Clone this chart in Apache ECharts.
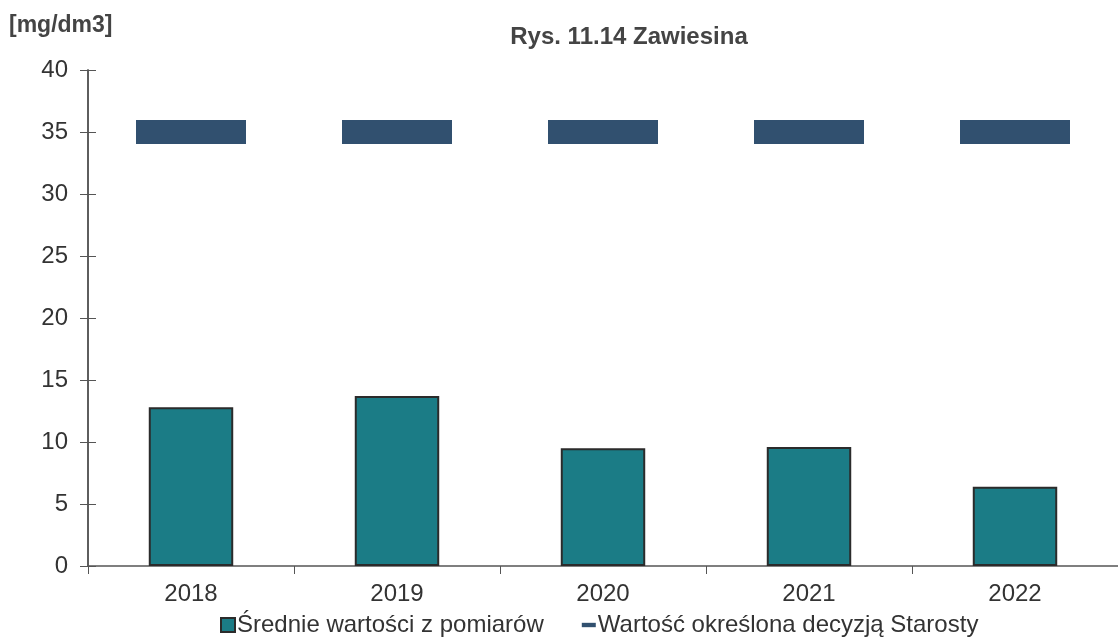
<!DOCTYPE html>
<html>
<head>
    <meta charset="utf-8" />
    <title>Zawiesina</title>
    <script src="https://cdn.jsdelivr.net/npm/echarts@6/dist/echarts.min.js"></script>
    <style>
        body { margin: 0; background: #fff; }
        #main { width: 1118px; height: 638px; }
    </style>
</head>
<body>
<div id="main"></div>
<script type="text/javascript">
    // dane
    var years = ['2018', '2019', '2020', '2021', '2022'];
    var srednie = [12.8, 13.7, 9.5, 9.6, 6.4];
    var limit = [35, 35, 35, 35, 35];
    var yTicks = [0, 5, 10, 15, 20, 25, 30, 35, 40];

    var nameBar = 'Średnie wartości z pomiarów';
    var nameLimit = 'Wartość określona decyzją Starosty';
    var font = 'Liberation Sans, Arial, sans-serif';

    var myChart = echarts.init(document.getElementById('main'));

    var yAxisBase = {
        type: 'value',
        min: yTicks[0],
        max: yTicks[yTicks.length - 1],
        interval: yTicks[1] - yTicks[0],
        splitLine: { show: false },
        axisLine: { show: true, lineStyle: { color: '#555', width: 1.5 } }
    };

    myChart.setOption({
        animation: false,
        textStyle: { fontFamily: font },
        title: {
            text: 'Rys. 11.14 Zawiesina',
            left: 624,
            top: 20,
            textAlign: 'center',
            textStyle: { fontSize: 24, fontWeight: 'bold', color: '#444', fontFamily: font }
        },
        graphic: [{
            type: 'text',
            left: 9,
            top: 14,
            style: { text: '[mg/dm3]', fontSize: 23, fontWeight: 'bold', fill: '#444', fontFamily: font }
        }],
        legend: {
            bottom: -4,
            left: 215,
            itemGap: 38,
            itemWidth: 14,
            itemHeight: 14,
            textStyle: { fontSize: 24, color: '#333', padding: [0, 0, 0, -3] },
            data: [
                { name: nameBar, icon: 'rect' },
                { name: nameLimit, icon: 'path://M0,0H16V5H0Z' }
            ]
        },
        grid: { left: 88, right: 0, top: 70, bottom: 72 },
        xAxis: {
            type: 'category',
            data: years,
            axisLine: { lineStyle: { color: '#555', width: 1.5 } },
            axisTick: { show: true, length: 8, inside: false, lineStyle: { color: '#555' } },
            axisLabel: { fontSize: 24, color: '#333', margin: 16 }
        },
        yAxis: [
            Object.assign({}, yAxisBase, {
                axisTick: { show: true, length: 8, lineStyle: { color: '#555' } },
                axisLabel: { fontSize: 24, color: '#333', margin: 20 }
            }),
            Object.assign({}, yAxisBase, {
                position: 'left',
                axisTick: { show: true, inside: true, length: 8, lineStyle: { color: '#555' } },
                axisLabel: { show: false }
            })
        ],
        series: [
            {
                name: nameBar,
                type: 'bar',
                data: srednie,
                barWidth: '41%',
                itemStyle: { color: '#1b7c86', borderColor: '#2b2b2b', borderWidth: 2 }
            },
            {
                name: nameLimit,
                type: 'scatter',
                data: limit,
                symbol: 'rect',
                symbolSize: [110, 24],
                itemStyle: { color: '#31506f', opacity: 1 },
                z: 3
            }
        ]
    });
</script>
</body>
</html>
